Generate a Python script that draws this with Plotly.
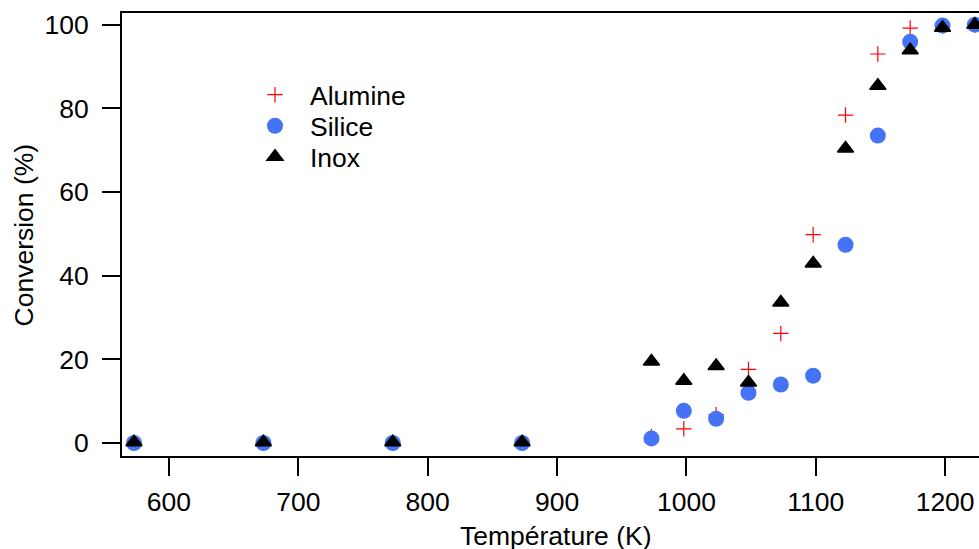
import plotly.graph_objects as go

temperature = [573, 673, 773, 873, 973, 998, 1023, 1048, 1073, 1098, 1123, 1148, 1173, 1198, 1223]
alumine = [0, 0, 0, 0, 1.5, 3.4, 6.8, 17.6, 26.2, 49.8, 78.4, 93.0, 99.2, 99.6, 100]
silice = [0, 0, 0, 0, 1.1, 7.7, 5.8, 12.0, 14.0, 16.1, 47.4, 73.5, 95.9, 99.8, 100]
inox = [0.2, 0.2, 0.2, 0.2, 19.5, 14.9, 18.4, 14.5, 33.6, 42.9, 70.4, 85.4, 93.9, 99.3, 100]

x_ticks = [600, 700, 800, 900, 1000, 1100, 1200]
y_ticks = [0, 20, 40, 60, 80, 100]

FONT = "Liberation Sans, Arial, sans-serif"
FS = 26.5

fig = go.Figure()
fig.add_trace(go.Scatter(x=temperature, y=alumine, mode="markers", name="Alumine",
                         legend="legend",
                         marker=dict(symbol="cross-thin-open", size=11, color="#ff0000",
                                     line=dict(width=1.2, color="#ff0000"))))
fig.add_trace(go.Scatter(x=temperature, y=silice, mode="markers", name="Silice",
                         legend="legend2",
                         marker=dict(symbol="circle", size=16, color="#4573f6",
                                     line=dict(width=0))))
fig.add_trace(go.Scatter(x=temperature, y=inox, mode="markers", name="Inox",
                         legend="legend3",
                         marker=dict(symbol="triangle-up", size=14, color="#000000",
                                     line=dict(width=1.5, color="#000000"))))

leg_common = dict(x=0.1377, xanchor="left", yanchor="middle",
                  bgcolor="rgba(0,0,0,0)", itemwidth=60, tracegroupgap=0,
                  font=dict(family=FONT, size=FS))

fig.update_layout(
    width=979, height=549,
    margin=dict(l=122, r=0, t=13, b=93),
    paper_bgcolor="white", plot_bgcolor="white",
    font=dict(family=FONT, size=FS, color="black"),
    showlegend=True,
    legend=dict(y=0.8149, **leg_common),
    legend2=dict(y=0.7449, **leg_common),
    legend3=dict(y=0.6749, **leg_common),
    xaxis=dict(range=[563.7, 1226.2], tickvals=x_ticks, ticks="outside", ticklen=18,
               tickwidth=2, tickcolor="black", showline=True, linewidth=2,
               linecolor="black", mirror=True, showgrid=False, zeroline=False,
               ticklabelstandoff=3,
               tickfont=dict(family=FONT, size=FS)),
    yaxis=dict(range=[-3.1, 102.8], tickvals=y_ticks, ticks="outside", ticklen=18,
               tickwidth=2, tickcolor="black", showline=True, linewidth=2,
               linecolor="black", mirror=False, showgrid=False, zeroline=False,
               ticklabelstandoff=8,
               tickfont=dict(family=FONT, size=FS)),
    annotations=[
        dict(text="Température (K)", xref="paper", yref="paper", x=0.5053, y=-0.1808,
             xanchor="center", yanchor="middle", showarrow=False,
             font=dict(family=FONT, size=FS)),
        dict(text="Conversion (%)", xref="paper", yref="paper", x=-0.1144, y=0.5,
             xanchor="center", yanchor="middle", textangle=-90, showarrow=False,
             font=dict(family=FONT, size=FS)),
    ],
)

fig.write_html(
    "out.html",
    config={"displayModeBar": False},
    post_script="document.body.style.margin='0';"
                "document.documentElement.style.overflow='hidden';"
                "document.body.style.overflow='hidden';",
)
